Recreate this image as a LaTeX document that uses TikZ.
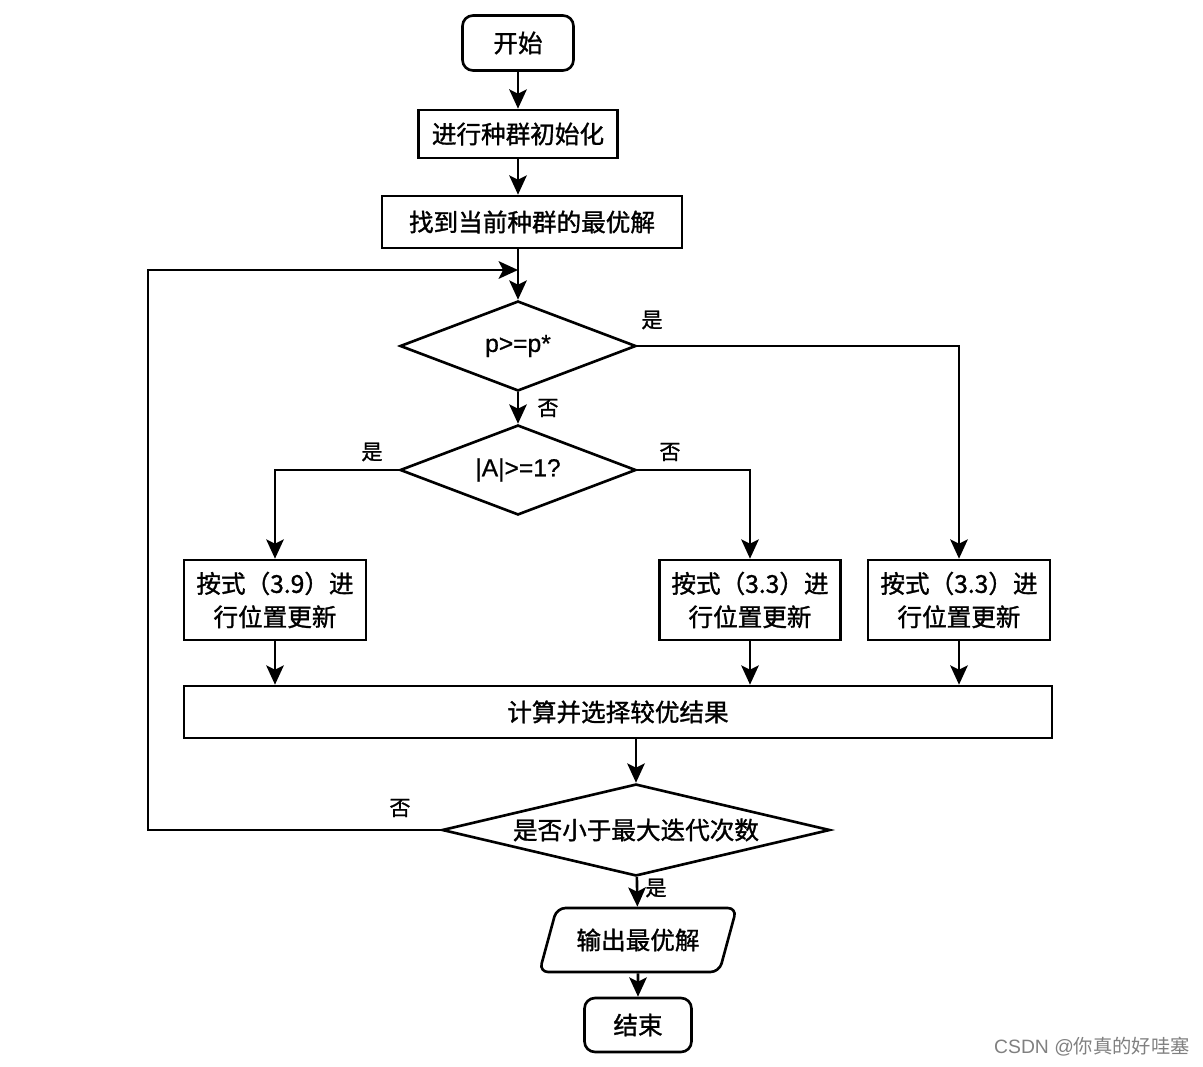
\documentclass[tikz,border=0pt]{standalone}
\usepackage{fontspec}
\setmainfont{Liberation Sans}[FakeBold=0.8]
\newfontfamily\cjk{Noto Sans CJK SC}[FakeBold=1.2]
\newfontfamily\marksans{Liberation Sans}
\newfontfamily\markcjk{Noto Sans CJK SC}
\usetikzlibrary{arrows.meta, shapes.geometric, calc}

\begin{document}
\begin{tikzpicture}[
  x=0.02cm, y=-0.02cm,
  line width=1.5pt,
  >={Stealth[length=11pt,width=10pt,inset=2.5pt]},
  proc/.style={draw,fill=white,align=center,inner sep=2pt,
               font=\cjk\fontsize{14}{19}\selectfont},
  term/.style={proc,rounded corners=6pt},
  decide/.style={draw,diamond,aspect=2.6,inner sep=0pt,
                 font=\fontsize{14}{18}\selectfont},
  io/.style={proc,trapezium,trapezium left angle=65,trapezium right angle=115,
             trapezium stretches=true,rounded corners=5pt},
  lbl/.style={font=\cjk\fontsize{12}{14}\selectfont},
]
\useasboundingbox (0,0) rectangle (1203,1067);

% main column
\node[term, minimum width=2.22cm, minimum height=1.1cm] (start) at (518,43) {开始};
\node[proc, minimum width=3.98cm, minimum height=0.96cm] (init) at (518,134) {进行种群初始化};
\node[proc, minimum width=6.0cm, minimum height=1.04cm] (best) at (532,222) {找到当前种群的最优解};
\node[decide, minimum width=4.72cm, minimum height=1.8cm] (d1) at (518,346) {p>=p*};
\node[decide, minimum width=4.72cm, minimum height=1.8cm] (d2) at (518,470) {|A|>=1?};

% update boxes
\node[proc, minimum width=3.64cm, minimum height=1.6cm] (upd1) at (275,600) {按式（3.9）进\\行位置更新};
\node[proc, minimum width=3.62cm, minimum height=1.6cm] (upd2) at (750,600) {按式（3.3）进\\行位置更新};
\node[proc, minimum width=3.64cm, minimum height=1.6cm] (upd3) at (959,600) {按式（3.3）进\\行位置更新};

\node[proc, minimum width=17.36cm, minimum height=1.04cm] (calc) at (618,712) {计算并选择较优结果};
\node[decide, aspect=4.2, font=\cjk\fontsize{14}{18}\selectfont,
      minimum width=7.76cm, minimum height=1.84cm] (d3) at (636,830) {是否小于最大迭代次数};
\node[io, minimum width=3.96cm, minimum height=1.28cm] (out) at (638,940) {输出最优解};
\node[term, minimum width=2.14cm, minimum height=1.08cm] (stop) at (638,1025) {结束};

\coordinate (merge) at (518,270);
\coordinate (loop) at (148,270);

% connectors
\draw[->] (start) -- (init);
\draw[->] (init.south) -- (init.south |- best.north);
\draw (merge |- best.south) -- (merge);
\draw[->] (merge) -- (d1.north);
\draw[->] (d1) -- (d2);
\draw[->] (d1.east) -| (upd3.north);
\draw[->] (d2.west) -| (upd1.north);
\draw[->] (d2.east) -| (upd2.north);
\draw[->] (upd1.south) -- (upd1.south |- calc.north);
\draw[->] (upd2.south) -- (upd2.south |- calc.north);
\draw[->] (upd3.south) -- (upd3.south |- calc.north);
\draw[->] (d3.north |- calc.south) -- (d3.north);
\draw[->] (d3.west) -| (loop) -- (merge);
\draw[->] (d3) -- (out);
\draw[->] (out) -- (stop);

% branch labels
\node[lbl] at (652,320) {是};
\node[lbl] at (548,408) {否};
\node[lbl] at (372,452) {是};
\node[lbl] at (670,452) {否};
\node[lbl] at (400,808) {否};
\node[lbl] at (656,888) {是};

\node[font=\marksans\fontsize{11}{13}\selectfont, text=gray] (mark) at (1092,1047) {CSDN @{\markcjk 你真的好哇塞}};
\end{tikzpicture}
\end{document}
